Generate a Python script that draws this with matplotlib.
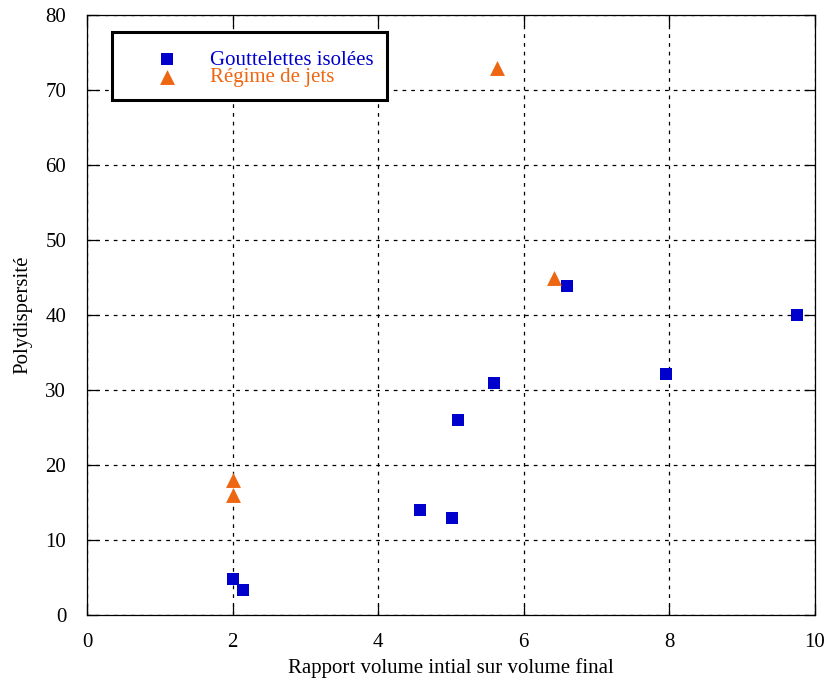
import matplotlib
matplotlib.use("Agg")
import matplotlib.pyplot as plt
from matplotlib.patches import Rectangle

plt.rcParams["font.family"] = ["Liberation Serif", "DejaVu Serif"]

# isolated droplets
drop_x = [2.0, 2.14, 4.58, 5.01, 5.10, 5.59, 6.59, 7.95, 9.75]
drop_y = [4.8, 3.3, 14.0, 13.0, 26.0, 30.9, 43.9, 32.1, 40.0]

# jet regime
jet_x = [2.0, 2.0, 5.63, 6.41]
jet_y = [18.0, 16.0, 73.0, 45.0]

x_ticks = [0, 2, 4, 6, 8, 10]
y_ticks = [0, 10, 20, 30, 40, 50, 60, 70, 80]

BLUE = "#0000cc"
ORANGE = "#ee6611"

fig = plt.figure(figsize=(8.27, 6.84), dpi=100)
ax = fig.add_axes([87 / 827, 69 / 684, 728 / 827, 600 / 684])

ax.scatter(drop_x, drop_y, marker="s", s=66, color=BLUE, linewidths=0, zorder=3,
           label="Gouttelettes isolées")
ax.scatter(jet_x, jet_y, marker="^", s=115, color=ORANGE, linewidths=0, zorder=3,
           label="Régime de jets")

ax.set_xlim(0, 10)
ax.set_ylim(0, 80)
ax.set_xticks(x_ticks)
ax.set_yticks(y_ticks)
ax.grid(True, color="black", linestyle=(0, (3, 4)), linewidth=0.9)
ax.tick_params(direction="in", length=8, width=0.9, top=True, right=True,
               labelsize=15)
ax.tick_params(axis="x", pad=13)
ax.tick_params(axis="y", pad=15)
for sp in ax.spines.values():
    sp.set_linewidth(0.9)

ax.set_xlabel("Rapport volume intial sur volume final", fontsize=15, labelpad=4)
ax.set_ylabel("Polydispersité", fontsize=15, labelpad=9)

# legend box drawn by hand (gnuplot style key)
box = Rectangle((25 / 728, 515 / 600), 275 / 728, 68 / 600, transform=ax.transAxes,
                facecolor="white", edgecolor="black", linewidth=2.2, zorder=4)
ax.add_patch(box)

leg = ax.legend(loc="upper left", bbox_to_anchor=(59.2 / 728, 565 / 600),
                fontsize=15, frameon=False, borderpad=0, borderaxespad=0,
                handlelength=2.0, handletextpad=1.06, labelspacing=-0.1,
                scatterpoints=1)
leg.set_zorder(5)
leg.get_texts()[0].set_color(BLUE)
leg.get_texts()[1].set_color(ORANGE)

fig.savefig("out.png", dpi=100)
